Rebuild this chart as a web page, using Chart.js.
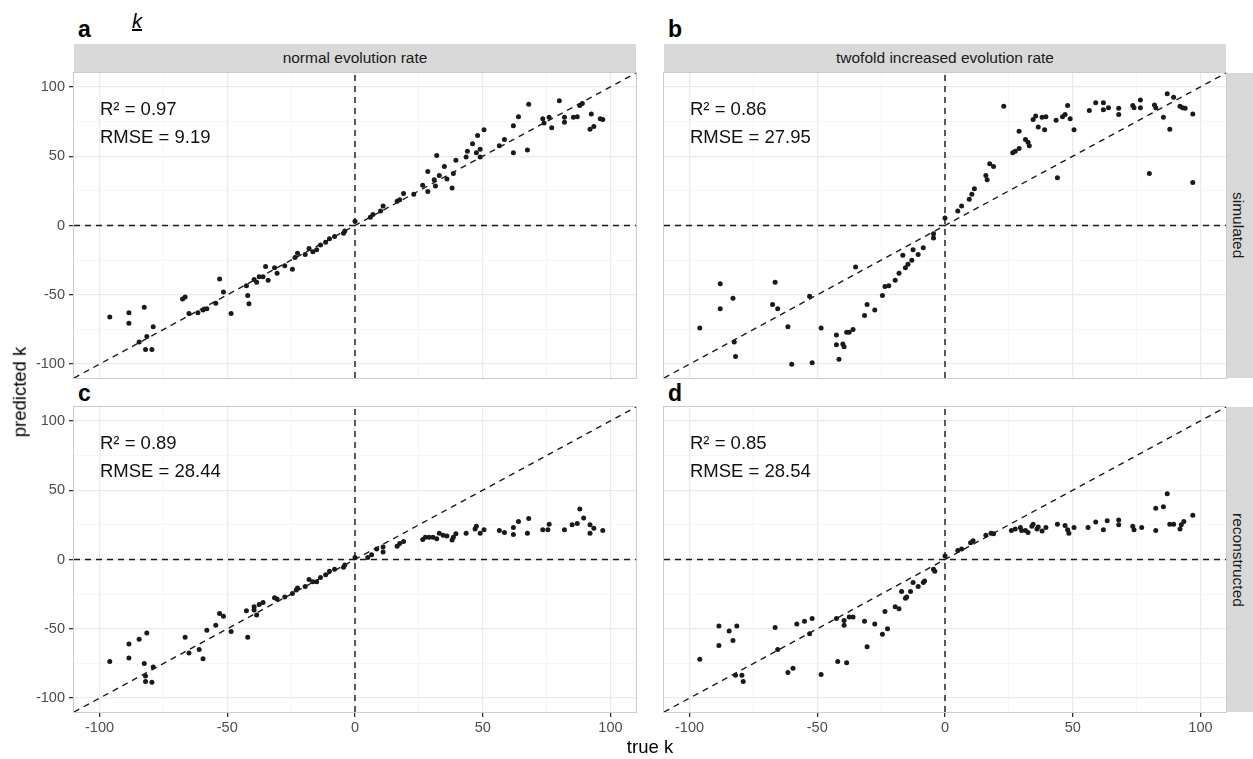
<!DOCTYPE html>
<html>
<head>
<meta charset="utf-8">
<script src="https://cdn.jsdelivr.net/npm/chart.js@4/dist/chart.umd.min.js"></script>
<style>
  body { margin: 0; background: #fff; }
  #page { position: relative; width: 1253px; height: 759px; overflow: hidden; background: #fff;
          font-family: "Liberation Sans", Arial, Helvetica, sans-serif; }
  canvas { position: absolute; }
  .lbl { position: absolute; line-height: 1; white-space: nowrap; }
  .tag { font-weight: bold; font-size: 23px; color: #000; }
  .strip-top { position: absolute; height: 28px; line-height: 28px; background: #D9D9D9;
               text-align: center; font-size: 15.5px; color: #1a1a1a; }
  .strip-right { position: absolute; width: 26px; background: #D9D9D9; display: flex;
                 align-items: center; justify-content: center; box-sizing: border-box; padding-right: 4px; }
  .strip-right span { writing-mode: vertical-rl; font-size: 15.5px; color: #1a1a1a; }
</style>
</head>
<body>
<div id="page">
  <canvas id="pa" width="637" height="307" style="left:0px;top:72px"></canvas>
  <canvas id="pb" width="564" height="307" style="left:663px;top:72px"></canvas>
  <canvas id="pc" width="637" height="336" style="left:0px;top:406px"></canvas>
  <canvas id="pd" width="564" height="336" style="left:663px;top:406px"></canvas>

  <div class="lbl tag" style="left:78px;top:17.5px">a</div>
  <div class="lbl tag" style="left:668px;top:17.5px">b</div>
  <div class="lbl tag" style="left:78px;top:381.5px">c</div>
  <div class="lbl tag" style="left:668px;top:381.5px">d</div>
  <div class="lbl" style="left:132px;top:11px;font-size:20px;font-style:italic;text-decoration:underline">k</div>

  <div class="strip-top" style="left:74px;top:44px;width:562px">normal evolution rate</div>
  <div class="strip-top" style="left:664px;top:44px;width:562px">twofold increased evolution rate</div>
  <div class="strip-right" style="left:1227px;top:73px;height:305px"><span>simulated</span></div>
  <div class="strip-right" style="left:1227px;top:407px;height:305px"><span>reconstructed</span></div>

  <div class="lbl" style="left:650px;top:738px;font-size:18.5px;color:#000;transform:translateX(-50%)">true k</div>
  <div class="lbl" style="left:20px;top:392px;font-size:18.5px;color:#000;transform:translate(-50%,-50%) rotate(-90deg)">predicted k</div>
</div>

<script>
// tick positions
const majorTicks = [-100, -50, 0, 50, 100];
const gridTicks = [-100, -75, -50, -25, 0, 25, 50, 75, 100];
const axisRange = [-110, 110];

// a: simulated, normal rate
const trueA = [-96, -88.5, -88.5, -82.5, -84.5, -81.5, -82, -79.5, -79, -67.5, -66.5, -65, -61.5, -59.5, -58, -54.5,
  -53, -51.5, -48.5, -42.5, -42, -41.5, -39.5, -38.5, -37.5, -36, -35, -34, -31.5, -30.5, -27.5, -24.5, -23.5, -22.5,
  -19.5, -18, -16.5, -15, -13.5, -11.5, -10, -8, -4.5, -4, 0, 6, 7, 10, 11, 16.5, 17.5, 19, 23, 26.5, 28.5, 28.5, 31,
  31.5, 32, 33, 35, 36, 38, 38.5, 39.5, 43.5, 44, 46, 47.5, 49, 49, 48, 50.5, 56.5, 58.5, 62, 64, 62, 67.5, 68, 73.5,
  74, 76, 77, 80, 82, 82, 85.5, 87, 88, 89, 92.5, 92, 93.5, 97, 96];
const predA = [-66, -63, -70.5, -59, -84, -80, -89.5, -89.5, -73, -53, -51.5, -63.5, -63, -61, -60, -56, -38.5, -48,
  -63.5, -43.5, -50.5, -56.5, -39, -41, -37, -37, -29.5, -39.5, -30.5, -34.5, -29, -31.5, -23, -20, -21, -16.5, -19,
  -17.5, -14, -12, -9.5, -8, -5.5, -4, 3, 6, 8, 10.5, 14, 17.5, 18.5, 23, 22.5, 29, 24.5, 39, 33, 28.5, 50.5, 36,
  42.5, 33.5, 27, 37.5, 47, 49.5, 53.5, 59, 52.5, 55, 49.5, 65, 69, 57.5, 62, 72, 78.5, 52.5, 54.5, 87.5, 77, 74, 78,
  70.5, 90, 78, 74.5, 78, 78.5, 86.5, 88, 80.5, 69.5, 71.5, 76.5, 77];

// b: simulated, twofold rate
const trueB = [-96, -88, -88, -83, -82.5, -82, -67.5, -66.5, -65.5, -61.5, -60, -53, -52, -48.5, -42.5, -42.5, -40,
  -39.5, -41.5, -38.5, -37.5, -36, -35, -31.5, -30.5, -27.5, -24.5, -23.5, -22, -19.5, -18, -16.5, -15.5, -14.5, -13,
  -12.5, -10.5, -8.5, -4.5, -4.5, 0, 5, 6.5, 9.5, 10.5, 11.5, 16, 16.5, 17.5, 19, 23, 26.5, 27.5, 29, 29, 31.5, 32.5,
  33, 34.5, 35.5, 36.5, 38, 39, 39.5, 43.5, 44, 46, 47, 48, 49, 50.5, 56.5, 59, 62, 62, 64, 68, 68, 73.5, 74, 76.5,
  76.5, 80, 82, 82.5, 85.5, 87, 88, 89.5, 92, 93, 94, 97, 97];
const predB = [-74, -42, -60, -52.5, -84, -94.5, -57, -41, -60, -73, -100, -51, -99, -74, -79, -86, -85.5, -87.5,
  -96.5, -77, -77, -75, -30, -65, -57, -61, -50.5, -44, -43.5, -39.5, -34.5, -21.5, -30.5, -28, -25, -17.5, -21, -16,
  -6, -9, 5.5, 10.5, 14, 19, 22.5, 26.5, 36, 33, 44.5, 42.5, 86, 52.5, 53.5, 55.5, 68, 62, 60, 57.5, 76.5, 79, 71, 78,
  69, 78.5, 76, 34.5, 78.5, 80, 86.5, 77, 69, 83, 88.5, 88.5, 83.5, 85, 84.5, 80, 86.5, 85, 90.5, 85, 37.5, 87, 85,
  78, 95, 69.5, 92.5, 86, 85, 84.5, 80.5, 31];

// c: reconstructed, normal rate
const trueC = [-96, -88.5, -88.5, -84.5, -81.5, -82.5, -82, -82, -79.5, -79, -66.5, -65, -61, -59.5, -58, -54.5, -53,
  -51.5, -48.5, -42.5, -42, -39.5, -39.5, -38.5, -37.5, -36, -31.5, -30.5, -27.5, -24.5, -23, -22.5, -19.5, -18,
  -16.5, -15, -13.5, -11.5, -10, -8, -4.5, -4, 0, 5, 6.5, 8.5, 11, 11, 16.5, 17.5, 19, 26.5, 27.5, 29, 30.5, 32, 33,
  34.5, 36, 38, 38.5, 39.5, 43.5, 47, 47.5, 49, 50.5, 56.5, 58.5, 62, 62, 64, 67.5, 68, 73.5, 75.5, 76, 82, 85, 87,
  88, 89.5, 92, 92, 93.5, 97];
const predC = [-73.5, -61, -71, -57.5, -53, -75, -84, -88, -88.5, -77.5, -56, -67.5, -65, -71.5, -51, -47.5, -39, -41,
  -52, -37, -56, -34, -36.5, -40, -32.5, -31, -27.5, -28.5, -27, -24.5, -22, -20.5, -19.5, -14.5, -16, -16, -13, -11,
  -8.5, -7, -5.5, -4, 1.5, 1.5, 3.5, 7.5, 5.5, 9, 9.5, 11.5, 13, 14.5, 16, 16, 16, 15, 19, 17.5, 17, 14, 16, 18.5, 19,
  22, 24, 19, 21.5, 21, 19.5, 23, 18, 27.5, 19, 29.5, 21.5, 21.5, 25.5, 21.5, 25, 26, 36.5, 30, 25, 19, 22.5, 21];

// d: reconstructed, twofold rate
const trueD = [-96, -88.5, -88.5, -84.5, -83, -81.5, -82, -79.5, -79, -66.5, -65.5, -61.5, -59.5, -58, -55, -53, -52,
  -48.5, -42.5, -42, -39.5, -39.5, -38.5, -37.5, -36, -31.5, -30.5, -27.5, -24.5, -23.5, -22.5, -19.5, -18, -17,
  -15.5, -15, -13.5, -12.5, -10.5, -8.5, -8, -4.5, -4, 0, 5, 6.5, 10, 11, 16, 18, 19, 26, 27.5, 29.5, 30, 31.5, 32.5,
  34, 34.5, 36, 36.5, 38, 39.5, 44, 47, 48, 48.5, 50.5, 56, 59, 62, 63.5, 68, 68, 73.5, 74, 77, 82.5, 82.5, 85.5, 87,
  88, 89.5, 92, 92.5, 93.5, 97];
const predD = [-72, -48, -62, -51.5, -58.5, -48, -83.5, -83.5, -88, -49, -65, -81.5, -78.5, -46.5, -44.5, -53.5,
  -42.5, -83, -42.5, -73.5, -44, -47.5, -74.5, -41.5, -41.5, -44.5, -63, -46.5, -54, -37.5, -50, -34, -35.5, -23, -28,
  -27, -23, -16.5, -19.5, -16.5, -15.5, -7, -8.5, 2.5, 6.5, 7.5, 12, 13.5, 17.5, 19, 18.5, 21, 22, 23, 21, 21, 19.5,
  24, 25.5, 22, 23.5, 20.5, 23, 25.5, 24.5, 21.5, 19, 23, 23, 27, 21.5, 28, 28.5, 25, 24, 21.5, 23, 37, 21, 38, 47.5,
  25.5, 25.5, 22, 25, 27.5, 32];

const r2Labels = ['0.97', '0.86', '0.89', '0.85'];
const rmseLabels = ['9.19', '27.95', '28.44', '28.54'];

const FONT = '"Liberation Sans", Arial, Helvetica, sans-serif';

const isMajor = v => majorTicks.includes(v);

// stop Chart.js from reserving room for label overflow, so every panel has the same plot box
function noPadding(s) {
    s.paddingTop = 0;
    s.paddingBottom = 0;
    s.paddingLeft = 0;
    s.paddingRight = 0;
}

function makePanel(id, trueK, predK, idx, showX, showY) {
    const pts = trueK.map((x, i) => ({x: x, y: predK[i]}));
    const dash = {
        type: 'line', showLine: true, pointRadius: 0, borderColor: '#1a1a1a',
        borderWidth: 1.4, borderDash: [6, 5], fill: false
    };

    const gridOpts = (show) => ({
        color: ctx => (ctx.tick && isMajor(ctx.tick.value)) ? '#EBEBEB' : '#F4F4F4',
        lineWidth: ctx => (ctx.tick && isMajor(ctx.tick.value)) ? 1.3 : 0.8,
        tickColor: ctx => (show && ctx.tick && isMajor(ctx.tick.value)) ? '#333333' : 'rgba(0,0,0,0)',
        tickLength: 5,
        drawTicks: show
    });

    const tickOpts = (show, pad) => ({
        display: show, autoSkip: false, maxRotation: 0, color: '#4D4D4D', padding: pad,
        font: {family: FONT, size: 14.5},
        callback: v => isMajor(v) ? String(v) : ''
    });

    const config = {
        type: 'scatter',
        data: {
            datasets: [{
                ...dash, data: [{x: axisRange[0], y: 0}, {x: axisRange[1], y: 0}]
            }, {
                ...dash, data: [{x: 0, y: axisRange[0]}, {x: 0, y: axisRange[1]}]
            }, {
                ...dash, data: [{x: axisRange[0], y: axisRange[0]}, {x: axisRange[1], y: axisRange[1]}]
            }, {
                data: pts,
                backgroundColor: '#1a1a1a',
                borderWidth: 0,
                pointRadius: 2.5
            }]
        },
        options: {
            responsive: false,
            devicePixelRatio: 1,
            animation: false,
            events: [],
            layout: {
                autoPadding: false,
                padding: {top: 1, right: 1, left: showY ? 0 : 1, bottom: showX ? 0 : 1}
            },
            plugins: {
                legend: {display: false},
                tooltip: {enabled: false}
            },
            scales: {
                x: {
                    type: 'linear', min: axisRange[0], max: axisRange[1],
                    afterBuildTicks: s => { s.ticks = gridTicks.map(v => ({value: v})); },
                    afterFit: s => { s.height = showX ? 30 : 0; noPadding(s); },
                    ticks: tickOpts(showX, 2),
                    grid: gridOpts(showX),
                    border: {display: false}
                },
                y: {
                    type: 'linear', min: axisRange[0], max: axisRange[1],
                    afterBuildTicks: s => { s.ticks = gridTicks.map(v => ({value: v})); },
                    afterFit: s => { s.width = showY ? 74 : 0; noPadding(s); },
                    ticks: tickOpts(showY, 4),
                    grid: gridOpts(showY),
                    border: {display: false}
                }
            }
        },
        plugins: [{
            id: 'panelFrame',
            afterDraw(chart) {
                const a = chart.chartArea;
                const c = chart.ctx;
                c.save();
                c.fillStyle = '#111111';
                c.font = '18.5px ' + FONT;
                c.textBaseline = 'alphabetic';
                c.textAlign = 'left';
                c.fillText('R\u00B2 = ' + r2Labels[idx], a.left + 26, a.top + 42);
                c.fillText('RMSE = ' + rmseLabels[idx], a.left + 26, a.top + 69.5);
                c.strokeStyle = '#CCCCCC';
                c.lineWidth = 1;
                c.strokeRect(a.left - 0.5, a.top - 0.5, a.right - a.left + 1, a.bottom - a.top + 1);
                c.restore();
            }
        }]
    };

    return new Chart(document.getElementById(id), config);
}

makePanel('pa', trueA, predA, 0, false, true);
makePanel('pb', trueB, predB, 1, false, false);
makePanel('pc', trueC, predC, 2, true, true);
makePanel('pd', trueD, predD, 3, true, false);
</script>
</body>
</html>
